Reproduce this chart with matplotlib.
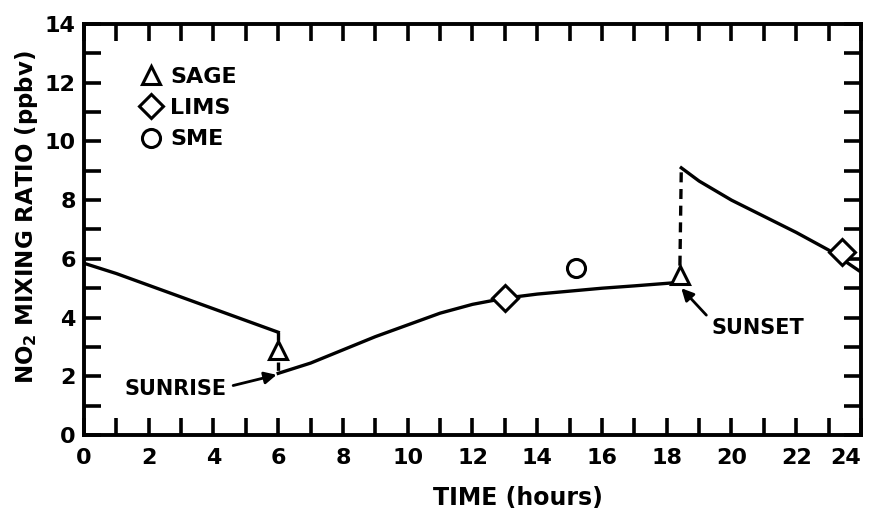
import matplotlib
matplotlib.use('Agg')
import matplotlib.pyplot as plt
from matplotlib.lines import Line2D

plt.rcParams['font.family'] = 'DejaVu Sans'
plt.rcParams['font.weight'] = 'bold'
plt.rcParams['mathtext.default'] = 'regular'

# model curve, night before sunrise
night1_x = [0, 1, 2, 3, 4, 5, 6]
night1_y = [5.85, 5.5, 5.1, 4.7, 4.3, 3.9, 3.5]
# day
day_x = [6, 7, 8, 9, 10, 11, 12, 13, 14, 15, 16, 17, 18.4]
day_y = [2.1, 2.45, 2.9, 3.35, 3.75, 4.15, 4.45, 4.66, 4.8, 4.9, 5.0, 5.08, 5.2]
# night after sunset
night2_x = [18.45, 19, 20, 21, 22, 23, 24]
night2_y = [9.1, 8.65, 8.0, 7.45, 6.9, 6.3, 5.55]
# jumps at terminator
rise_x = [6, 6]
rise_y = [3.5, 2.1]
set_x = [18.4, 18.45]
set_y = [5.2, 9.1]

# observations
sage_x = [6, 18.4]
sage_y = [2.9, 5.45]
lims_x = [13, 23.4]
lims_y = [4.66, 6.25]
sme_x = [15.2]
sme_y = [5.68]

fig = plt.figure(figsize=(8.71, 5.17), dpi=100)
ax = fig.add_axes([0.0964, 0.1586, 0.8921, 0.795])

lw = 2.4
ax.plot(night1_x, night1_y, color='black', lw=lw)
ax.plot(day_x, day_y, color='black', lw=lw)
ax.plot(night2_x, night2_y, color='black', lw=lw)
ax.plot(rise_x, rise_y, color='black', lw=lw, ls=(0, (2.5, 2)))
ax.plot(set_x, set_y, color='black', lw=lw, ls=(0, (3, 2)))

mk = dict(color='black', mfc='white', mew=2.2, ls='none', zorder=5)
ax.plot(sage_x, sage_y, marker='^', ms=13, **mk)
ax.plot(lims_x, lims_y, marker='D', ms=13, **mk)
ax.plot(sme_x, sme_y, marker='o', ms=13, **mk)

# annotations
ax.annotate('SUNRISE', xy=(5.95, 2.05), xytext=(2.82, 1.56),
            ha='center', va='center', fontsize=15, fontweight='bold',
            arrowprops=dict(arrowstyle='-|>', color='black', lw=2,
                            mutation_scale=18, shrinkA=3, shrinkB=0,
                            relpos=(1.0, 0.6)))
ax.annotate('SUNSET', xy=(18.45, 5.0), xytext=(20.8, 3.64),
            ha='center', va='center', fontsize=15, fontweight='bold',
            arrowprops=dict(arrowstyle='-|>', color='black', lw=2,
                            mutation_scale=18, shrinkA=2, shrinkB=0,
                            relpos=(0.0, 0.9)))

handles = [Line2D([], [], marker='^', ms=13, color='black', mfc='white', mew=2.2, ls='none'),
           Line2D([], [], marker='D', ms=12, color='black', mfc='white', mew=2.2, ls='none'),
           Line2D([], [], marker='o', ms=13, color='black', mfc='white', mew=2.2, ls='none')]
ax.legend(handles, ['SAGE', 'LIMS', 'SME'], loc='upper left',
          bbox_to_anchor=(0.072, 0.895), frameon=False, fontsize=16,
          handlelength=1.0, handletextpad=0.35, labelspacing=0.5,
          borderpad=0, borderaxespad=0)

ax.set_xlim(0, 24)
ax.set_ylim(0, 14)
ax.set_xticks(range(0, 25, 2))
ax.set_xticks(range(0, 25), minor=True)
ax.set_yticks(range(0, 15, 2))
ax.set_yticks(range(0, 15), minor=True)
ax.tick_params(which='both', direction='in', top=True, right=True,
               width=2.6, labelsize=16)
ax.tick_params(which='major', length=12)
ax.tick_params(which='minor', length=12)
ax.tick_params(axis='x', pad=9)
ax.tick_params(axis='y', pad=6)
# last hour label sits just inside the figure edge
ax.xaxis.get_major_ticks()[-1].label1.set_horizontalalignment('right')
for s in ax.spines.values():
    s.set_linewidth(2.8)

ax.set_xlabel('TIME (hours)', fontsize=17, fontweight='bold')
ax.xaxis.set_label_coords(0.558, -0.125)
ax.set_ylabel('NO$_2$ MIXING RATIO (ppbv)', fontsize=16.5, fontweight='bold')
ax.yaxis.set_label_coords(-0.057, 0.53)

fig.savefig('out.png', dpi=100)
